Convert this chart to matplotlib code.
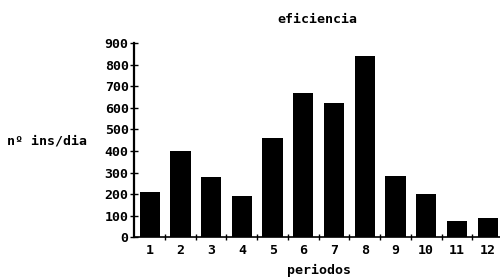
import matplotlib
matplotlib.use("Agg")
import matplotlib.pyplot as plt

periodos = [1, 2, 3, 4, 5, 6, 7, 8, 9, 10, 11, 12]
valores = [210, 400, 280, 190, 460, 670, 620, 840, 285, 200, 75, 90]
yticks = [0, 100, 200, 300, 400, 500, 600, 700, 800, 900]
ytick_labels = ["0", "100", "200", "300", "400", "500", "600", "700", "800", "900"]

plt.rcParams['font.family'] = ['DejaVu Sans Mono']
plt.rcParams['font.weight'] = 'bold'
fs = 9.5

fig = plt.figure(figsize=(5, 2.79), dpi=100)
ax = fig.add_axes([0.2686, 0.1495, 0.7314, 0.6964])

ax.bar(periodos, valores, width=0.66, color='black')
ax.set_xlim(0.5, 12.4)
ax.set_ylim(0, 900)

ax.set_yticks(yticks)
ax.set_yticklabels(ytick_labels, fontsize=fs)
ax.set_xticks([p + 0.5 for p in periodos[:-1]])
ax.set_xticklabels([])
ax.set_xticks(periodos, minor=True)
ax.set_xticklabels([str(p) for p in periodos], minor=True, fontsize=fs)
ax.tick_params(axis='x', which='minor', length=0, pad=5)
ax.tick_params(axis='x', which='major', direction='inout', length=5, width=1)
ax.tick_params(axis='y', direction='inout', length=6, width=1, pad=1)

for s in ['top', 'right']:
    ax.spines[s].set_visible(False)
ax.spines['left'].set_linewidth(1.6)
ax.spines['bottom'].set_linewidth(1.2)

fig.text(0.635, 0.93, "eficiencia", ha='center', va='center', fontsize=fs)
fig.text(0.014, 0.495, "nº ins/dia", ha='left', va='center', fontsize=fs)
fig.text(0.638, 0.03, "periodos", ha='center', va='center', fontsize=fs)

fig.savefig("out.png", dpi=100, facecolor='white')
